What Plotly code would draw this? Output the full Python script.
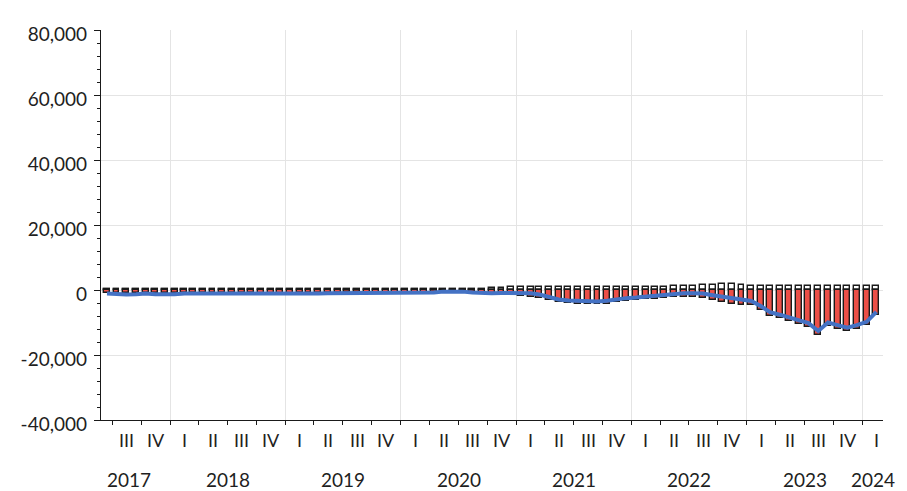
import plotly.graph_objects as go
import pandas as pd

# ---------------- data (monthly, Jun 2017 - Feb 2024) ----------------
month_start = "2017-06-01"
month_end = "2024-02-01"

positive = [
    300, 300, 300, 300, 300, 300, 300,                                   # 2017 Jun-Dec
    300, 300, 300, 300, 300, 300, 300, 300, 300, 300, 300, 300,          # 2018
    300, 300, 300, 300, 300, 300, 300, 300, 300, 300, 300, 300,          # 2019
    300, 300, 300, 300, 300, 300, 300, 300, 300, 500, 700, 800,          # 2020
    900, 1000, 1000, 900, 900, 900, 900, 900, 900, 900, 900, 900,        # 2021
    800, 800, 900, 1000, 1100, 1200, 1300, 1400, 1600, 1700, 1700, 1600, # 2022
    1300, 1200, 1100, 1100, 1100, 1100, 1100, 1100, 1100, 1100, 1100, 1100,  # 2023
    1100, 1100,                                                          # 2024 Jan-Feb
]

negative = [
    -900, -1000, -1000, -1000, -900, -1000, -1000,
    -1000, -900, -900, -1000, -1000, -1000, -900, -900, -1000, -1100, -1100, -1100,
    -1100, -1000, -900, -900, -800, -800, -700, -700, -800, -900, -900, -900,
    -900, -900, -800, -700, -500, -400, -500, -700, -900, -1300, -1500, -1600,
    -1800, -2000, -2400, -3100, -3800, -4100, -4200, -4300, -4400, -4200, -3700, -3400,
    -3100, -2800, -2700, -2400, -2200, -2200, -2300, -2500, -3200, -3700, -4200, -4600,
    -4700, -6200, -7900, -8700, -9500, -10500, -11300, -13700, -11100, -11900, -12700, -11900,
    -10900, -7800,
]

net = [
    -1100, -1300, -1400, -1300, -1100, -1300, -1400,
    -1300, -1100, -1100, -1200, -1400, -1400, -1100, -1100, -1300, -1400, -1400, -1300,
    -1300, -1200, -1100, -1100, -1000, -1000, -800, -800, -900, -1100, -1100, -1100,
    -1100, -1100, -1000, -800, -500, -400, -500, -800, -1000, -1000, -900, -900,
    -900, -1000, -1400, -2200, -2900, -3200, -3300, -3400, -3500, -3300, -2800, -2500,
    -2300, -2000, -1800, -1400, -1100, -1000, -1000, -1100, -1600, -2000, -2500, -3000,
    -3400, -5000, -6800, -7600, -8400, -9400, -10200, -12600, -10000, -10800, -11600, -10800,
    -9800, -6700,
]

quarter_labels = [
    "III", "IV",
    "I", "II", "III", "IV",
    "I", "II", "III", "IV",
    "I", "II", "III", "IV",
    "I", "II", "III", "IV",
    "I", "II", "III", "IV",
    "I", "II", "III", "IV",
    "I",
]
first_quarter = "2017-07-01"

year_labels = ["2017", "2018", "2019", "2020", "2021", "2022", "2023", "2024"]

y_ticks = [-40000, -20000, 0, 20000, 40000, 60000, 80000]
y_tick_text = ["-40,000", "-20,000", "0", "20,000", "40,000", "60,000", "80,000"]

# ---------------- derived positions ----------------
months = pd.date_range(month_start, month_end, freq="MS")
x_mid = months + pd.Timedelta(days=14)

x_lo = pd.Timestamp("2017-05-27")
x_hi = pd.Timestamp("2024-03-07")

q_starts = pd.date_range(first_quarter, periods=len(quarter_labels) + 1, freq="QS-JAN")
q_centers = [q_starts[i] + (q_starts[i + 1] - q_starts[i]) / 2 for i in range(len(quarter_labels))]

year_bounds = [pd.Timestamp(f"{int(y) + 1}-01-01") for y in year_labels[:-1]]
year_centers = []
for y in year_labels:
    a = max(pd.Timestamp(f"{y}-01-01"), x_lo)
    b = min(pd.Timestamp(f"{int(y) + 1}-01-01"), x_hi)
    year_centers.append(a + (b - a) / 2)
year_centers[0] = year_centers[0] - pd.Timedelta(days=20)

bar_width_ms = 0.62 * 30.4 * 86400000

FONT = "Lato, Liberation Sans, sans-serif"
TXT = "#1f1f1f"

fig = go.Figure()
fig.add_trace(go.Bar(
    x=x_mid, y=positive, width=bar_width_ms,
    marker=dict(color="#ffffff", line=dict(color="#1a1a1a", width=1.4)),
    name="positive", showlegend=False,
))
fig.add_trace(go.Bar(
    x=x_mid, y=negative, width=bar_width_ms,
    marker=dict(color="#EC4F47", line=dict(color="#1a1a1a", width=1.4)),
    name="negative", showlegend=False,
))
fig.add_trace(go.Scatter(
    x=x_mid, y=net, mode="lines",
    line=dict(color="#4472C4", width=4),
    name="net", showlegend=False,
))

annotations = []
for lab, c in zip(quarter_labels, q_centers):
    annotations.append(dict(
        x=c, y=-0.052, xref="x", yref="paper", text=lab, showarrow=False,
        xanchor="center", yanchor="middle",
        font=dict(family=FONT, size=18, color=TXT),
    ))
for lab, c in zip(year_labels, year_centers):
    annotations.append(dict(
        x=c, y=-0.152, xref="x", yref="paper", text=lab, showarrow=False,
        xanchor="center", yanchor="middle",
        font=dict(family=FONT, size=19, color=TXT),
    ))

fig.update_layout(
    width=907, height=491,
    margin=dict(l=101, r=24, t=30, b=71, autoexpand=False),
    paper_bgcolor="white", plot_bgcolor="white",
    barmode="relative", bargap=0,
    showlegend=False,
    font=dict(family=FONT, size=18, color=TXT),
    annotations=annotations,
    xaxis=dict(
        type="date", range=[x_lo, x_hi], automargin=False,
        tickmode="array", tickvals=year_bounds, ticktext=["" for _ in year_bounds],
        ticks="outside", ticklen=7, tickcolor="#1a1a1a", tickwidth=1,
        showgrid=True, gridcolor="#e4e4e4", gridwidth=1,
        showline=True, linecolor="#1a1a1a", linewidth=1.2,
        zeroline=False,
        minor=dict(tickmode="array", tickvals=list(q_starts), ticks="outside",
                   ticklen=4, tickcolor="#1a1a1a", showgrid=False),
    ),
    yaxis=dict(
        range=[-40000, 80000], automargin=False,
        tickmode="array", tickvals=y_ticks, ticktext=y_tick_text,
        ticks="outside", ticklen=6, tickcolor="#1a1a1a",
        showgrid=True, gridcolor="#e4e4e4", gridwidth=1,
        showline=True, linecolor="#1a1a1a", linewidth=1.2,
        zeroline=False,
        tickfont=dict(family=FONT, size=19, color=TXT),
        ticklabelshift=4, ticklabelstandoff=3,
        minor=dict(dtick=4000, tick0=0, ticks="outside", ticklen=3,
                   tickcolor="#1a1a1a", showgrid=False),
    ),
)

fig.write_html(
    "out.html",
    config={"displayModeBar": False},
    post_script="document.body.style.margin='0';document.body.style.padding='0';"
                "document.documentElement.style.overflow='hidden';",
)
